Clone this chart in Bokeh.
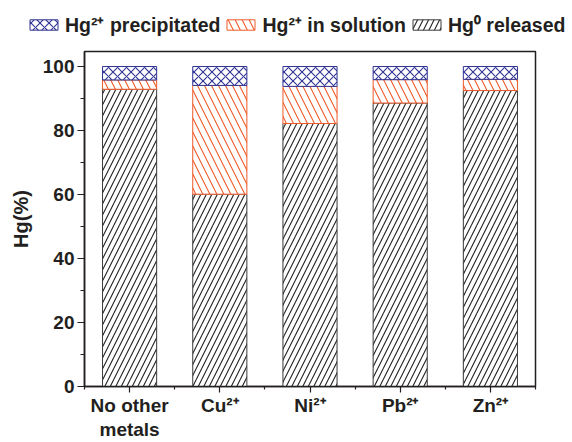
from bokeh.plotting import figure
from bokeh.layouts import column
from bokeh.models import ColumnDataSource, FixedTicker, Legend, LegendItem, Range1d
from bokeh.embed import file_html
from bokeh.resources import INLINE

# ---- data ----
categories = ["No other metals", "Cu²⁺", "Ni²⁺", "Pb²⁺", "Zn²⁺"]
tick_labels = ["No other\nmetals", "Cu²⁺", "Ni²⁺", "Pb²⁺", "Zn²⁺"]
series_names = ["Hg⁰ released", "Hg²⁺ in solution", "Hg²⁺ precipitated"]
hg0_released = [92.9, 60.1, 82.2, 88.6, 92.5]
hg2_solution = [2.9, 34.0, 11.6, 7.3, 3.5]
hg2_precipitated = [4.2, 5.9, 6.2, 4.1, 4.0]
y_ticks = [0, 20, 40, 60, 80, 100]
y_minor_ticks = [10, 30, 50, 70, 90]

FONT = "Liberation Sans"
TXT = "#231f20"

styles = [  # released, solution, precipitated
    dict(fill_color="white", line_color="#3a3a3a", line_width=1, hatch_pattern="/",
         hatch_color="#222222", hatch_scale=11, hatch_weight=1.1),
    dict(fill_color="white", line_color="#f05a28", line_width=1, hatch_pattern="\\",
         hatch_color="#f05a28", hatch_scale=14, hatch_weight=1.1),
    dict(fill_color="white", line_color="#2e3192", line_width=1, hatch_pattern="x",
         hatch_color="#2e3192", hatch_scale=9, hatch_weight=1.1),
]

n = len(categories)
xs = [i + 1 for i in range(n)]
b1 = [0.0] * n
t1 = list(hg0_released)
t2 = [a + b for a, b in zip(t1, hg2_solution)]
t3 = [a + b for a, b in zip(t2, hg2_precipitated)]
src = ColumnDataSource(dict(x=xs, b1=b1, t1=t1, b2=t1, t2=t2, b3=t2, t3=t3))

BW = 0.6

# ---- legend strip (bars kept out of its view; only the legend shows) ----
leg = figure(width=572, height=49, x_range=Range1d(0, 1), y_range=Range1d(500, 501),
             output_backend="svg", toolbar_location=None, min_border=0,
             x_axis_location=None, y_axis_location=None)
leg.frame_align = False
leg.xgrid.visible = False
leg.ygrid.visible = False
leg.outline_line_color = None
leg.background_fill_color = "white"
leg.border_fill_color = "white"
lr = [leg.vbar(x="x", bottom=b, top=t, width=BW, source=src, **st)
      for (b, t), st in zip([("b1", "t1"), ("b2", "t2"), ("b3", "t3")], styles)]
legend = Legend(items=[LegendItem(label=series_names[2], renderers=[lr[2]]),
                       LegendItem(label=series_names[1], renderers=[lr[1]]),
                       LegendItem(label=series_names[0], renderers=[lr[0]])],
                location=(26, 11), orientation="horizontal",
                label_text_font=FONT, label_text_font_style="bold", label_text_font_size="19.5px",
                label_text_color=TXT, glyph_width=35, glyph_height=13, label_standoff=4,
                spacing=3, padding=0, margin=0, border_line_color=None,
                background_fill_alpha=0)
leg.add_layout(legend)

# ---- main chart ----
p = figure(width=572, height=393, x_range=Range1d(0.5, n + 0.5), y_range=Range1d(0, 104.7),
           output_backend="svg", toolbar_location=None,
           min_border_left=84, min_border_right=37, min_border_top=2, min_border_bottom=55)
p.frame_align = False
p.xgrid.visible = False
p.ygrid.visible = False
p.outline_line_color = TXT
p.outline_line_width = 1.5
p.background_fill_color = "white"
p.border_fill_color = "white"

p.vbar(x="x", bottom="b1", top="t1", width=BW, source=src, **styles[0])
p.vbar(x="x", bottom="b2", top="t2", width=BW, source=src, **styles[1])
p.vbar(x="x", bottom="b3", top="t3", width=BW, source=src, **styles[2])

# y axis
ya = p.yaxis[0]
ya.ticker = FixedTicker(ticks=y_ticks, minor_ticks=y_minor_ticks)
ya.axis_label = "Hg(%)"
ya.axis_label_text_font = FONT
ya.axis_label_text_font_style = "bold"
ya.axis_label_text_font_size = "20px"
ya.axis_label_text_color = TXT
ya.axis_label_standoff = 8
ya.major_label_text_font = FONT
ya.major_label_text_font_style = "bold"
ya.major_label_text_font_size = "19px"
ya.major_label_text_color = TXT
ya.major_label_standoff = 3
ya.major_tick_out = 7
ya.major_tick_in = 0
ya.minor_tick_out = 4
ya.minor_tick_in = 0

# x axis
xa = p.xaxis[0]
xa.ticker = FixedTicker(ticks=xs, minor_ticks=[v - 0.5 for v in xs] + [xs[-1] + 0.5])
xa.major_label_overrides = {v: lab for v, lab in zip(xs, tick_labels)}
xa.major_label_text_font = FONT
xa.major_label_text_font_style = "bold"
xa.major_label_text_font_size = "19px"
xa.major_label_text_line_height = 1.15
xa.major_label_text_color = TXT
xa.major_label_standoff = 2
xa.major_tick_out = 6
xa.major_tick_in = 0
xa.minor_tick_out = 3
xa.minor_tick_in = 0

for ax in (xa, ya):
    ax.axis_line_width = 1.5
    ax.axis_line_color = TXT
    ax.major_tick_line_color = TXT
    ax.minor_tick_line_color = TXT
    ax.major_tick_line_width = 1.2
    ax.minor_tick_line_width = 1.2

layout = column(leg, p, spacing=0)
open("out.html", "w").write(file_html(layout, INLINE))
